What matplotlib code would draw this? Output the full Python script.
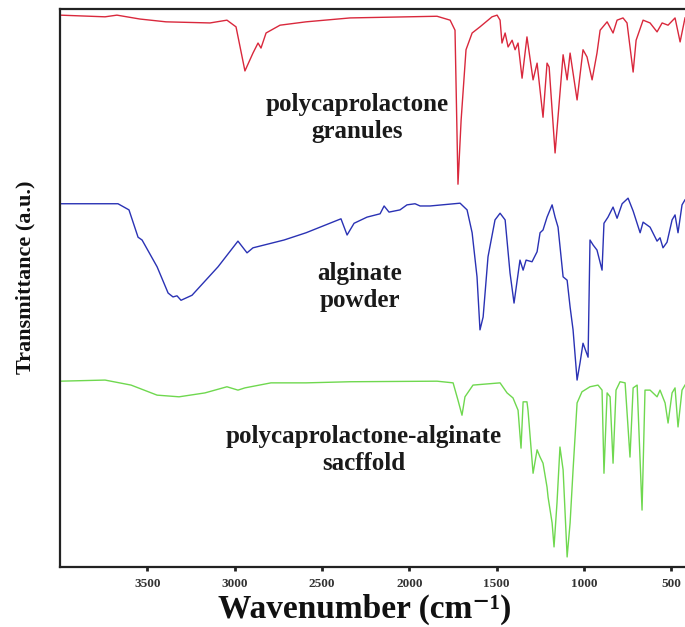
import matplotlib
matplotlib.use("Agg")
import matplotlib.pyplot as plt

plt.rcParams['font.family'] = ['Liberation Serif', 'DejaVu Serif']
plt.rcParams['font.weight'] = 'bold'

# ---------------- data (wavenumber cm-1, transmittance a.u.) ----------------
pcl_wn = [4000, 3742, 3674, 3542, 3393, 3141, 3044, 2992, 2941, 2895, 2866, 2849,
          2820, 2740, 2591, 2339, 1841, 1766, 1738, 1721, 1703, 1675, 1640, 1595,
          1526, 1497, 1480, 1469, 1451, 1434, 1411, 1394, 1377, 1354, 1326, 1291,
          1268, 1234, 1211, 1199, 1165, 1137, 1119, 1096, 1079, 1039, 1005, 982,
          953, 925, 907, 867, 833, 810, 776, 753, 718, 701, 661, 621, 581, 552,
          518, 478, 449, 421]
pcl_t = [98.9, 98.6, 98.9, 98.2, 97.7, 97.5, 98.0, 96.8, 88.9, 92.1, 93.9, 93.0,
         95.7, 97.1, 97.7, 98.4, 98.7, 98.0, 96.2, 68.6, 80.1, 92.7, 95.7, 96.8,
         98.6, 98.9, 98.0, 93.9, 95.7, 93.2, 94.4, 92.7, 93.9, 87.6, 95.0, 87.3,
         90.3, 80.6, 90.3, 89.6, 74.2, 84.9, 91.8, 87.3, 92.1, 83.7, 92.7, 91.4,
         87.3, 92.1, 96.2, 97.7, 95.7, 98.0, 98.4, 97.5, 88.7, 94.4, 98.0, 97.5,
         95.9, 97.5, 97.1, 98.4, 94.1, 98.4]

alg_wn = [4000, 3668, 3605, 3553, 3530, 3444, 3381, 3353, 3330, 3307, 3244, 3095,
          2981, 2929, 2895, 2717, 2591, 2391, 2356, 2316, 2242, 2167, 2144, 2116,
          2053, 2013, 1967, 1938, 1881, 1709, 1669, 1640, 1612, 1595, 1577, 1549,
          1509, 1480, 1451, 1423, 1400, 1366, 1348, 1331, 1297, 1268, 1251, 1234,
          1211, 1182, 1165, 1148, 1119, 1096, 1079, 1062, 1039, 1022, 1005, 976,
          965, 947, 925, 896, 885, 862, 833, 810, 781, 747, 718, 678, 661, 621,
          581, 564, 547, 524, 495, 478, 461, 438, 421]
alg_t = [65.1, 65.1, 64.0, 59.1, 58.6, 53.8, 49.1, 48.4, 48.6, 47.8, 48.7, 53.8,
         58.4, 56.3, 57.2, 58.6, 59.9, 62.4, 59.5, 61.6, 62.7, 63.3, 64.7, 63.6,
         64.0, 64.9, 65.1, 64.7, 64.7, 65.2, 64.0, 59.9, 52.0, 42.5, 44.8, 55.6,
         62.2, 63.4, 62.2, 52.7, 47.3, 55.0, 53.2, 55.0, 54.7, 56.5, 59.9, 60.4,
         62.7, 64.9, 62.7, 60.9, 52.0, 51.4, 46.6, 42.5, 33.5, 36.6, 40.1, 37.6,
         58.6, 57.7, 56.8, 53.2, 61.6, 62.7, 64.5, 62.5, 65.1, 66.1, 63.8, 59.9,
         61.8, 60.9, 58.4, 59.0, 57.2, 58.2, 62.2, 63.1, 59.9, 64.9, 65.8]

scf_wn = [4000, 3742, 3593, 3444, 3318, 3170, 3044, 2981, 2941, 2792, 2591, 2339,
          1841, 1749, 1721, 1698, 1681, 1635, 1480, 1440, 1406, 1377, 1360, 1348,
          1326, 1320, 1291, 1268, 1251, 1234, 1211, 1205, 1182, 1171, 1154, 1137,
          1119, 1096, 1079, 1062, 1039, 1011, 965, 919, 896, 885, 867, 850, 833,
          816, 793, 764, 736, 718, 695, 667, 650, 621, 581, 564, 535, 518, 495,
          478, 461, 438, 421]
scf_t = [33.3, 33.5, 32.6, 30.8, 30.5, 31.2, 32.3, 31.7, 32.1, 33.0, 33.0, 33.2,
         33.3, 33.0, 29.9, 27.2, 30.5, 32.6, 33.0, 31.2, 30.3, 28.1, 21.3, 29.6,
         29.6, 28.1, 16.8, 21.0, 19.7, 18.6, 14.3, 12.5, 7.9, 3.6, 11.5, 21.5,
         17.4, 1.8, 7.9, 17.4, 29.4, 31.4, 32.3, 32.6, 31.7, 16.8, 31.2, 30.5, 18.6,
         31.7, 33.2, 33.0, 19.7, 32.1, 32.6, 10.2, 31.7, 31.7, 30.5, 31.7, 29.4, 25.8,
         31.2, 32.1, 25.1, 31.7, 32.6]

series_labels = ["polycaprolactone\ngranules", "alginate\npowder",
                 "polycaprolactone-alginate\nsacffold"]
tick_values = [3500, 3000, 2500, 2000, 1500, 1000, 500]

# ---------------- figure ----------------
fig = plt.figure(figsize=(6.85, 6.27), dpi=100)
ax = fig.add_axes([60 / 685, 60 / 627, 625 / 685, 558 / 627])

ax.plot(pcl_wn, pcl_t, color='#d9283c', lw=1.0)
ax.plot(alg_wn, alg_t, color='#2a32b4', lw=1.0)
ax.plot(scf_wn, scf_t, color='#6fd84f', lw=1.0)

ax.set_xlim(4000, 421)
ax.set_ylim(0, 100)
ax.set_xticks(tick_values)
ax.set_xticklabels([str(v) for v in tick_values])
ax.set_yticks([])

for s in ['left', 'bottom', 'top']:
    ax.spines[s].set_linewidth(1.6)
    ax.spines[s].set_color('#222222')
ax.spines['right'].set_visible(False)

ax.tick_params(axis='x', direction='out', length=3, width=2, color='#222222',
               pad=5, labelsize=9.5, labelcolor='#333333')
for lab in ax.get_xticklabels():
    lab.set_fontweight('bold')

ax.set_xlabel('Wavenumber (cm\u207b\u00b9)', fontsize=24,
              fontweight='bold', color='#111111', va='center')
ax.xaxis.set_label_coords(0.488, -0.0765)
ax.set_ylabel('Transmittance (a.u.)', fontsize=16, fontweight='bold',
              color='#111111', ha='center', va='center')
ax.yaxis.set_label_coords(-0.056, 0.52)

text_pos = [(2299, 80.5), (2282, 50.2), (2259, 21.0)]
for lbl, (xx, yy) in zip(series_labels, text_pos):
    ax.text(xx, yy, lbl, ha='center', va='center', fontsize=18,
            fontweight='bold', color='#1a1a1a', linespacing=1.2)

fig.savefig('out.png', dpi=100)
